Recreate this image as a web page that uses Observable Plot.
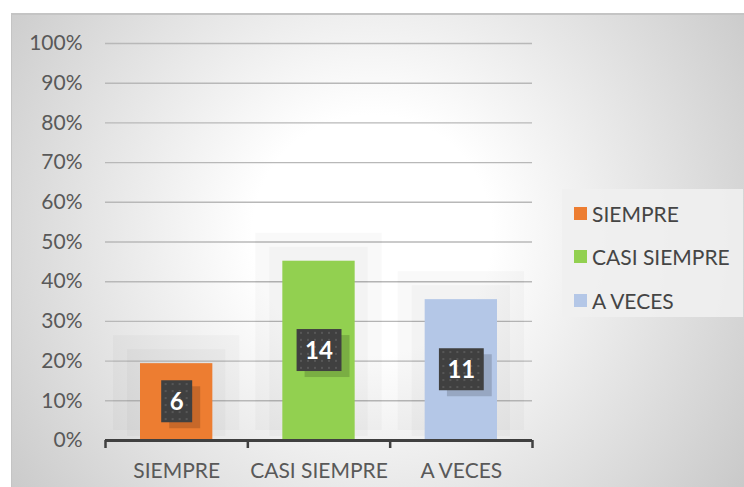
<!DOCTYPE html>
<html>
<head>
<meta charset="utf-8">
<script src="https://cdn.jsdelivr.net/npm/d3@7"></script>
<script src="https://cdn.jsdelivr.net/npm/@observablehq/plot@0.6"></script>
<style>
  body { margin: 0; background: #fff; }
  #wrap { position: relative; width: 744px; height: 487px; overflow: hidden; background: #fff; font-family: Lato, "Open Sans", sans-serif; }
  #frame { position: absolute; left: 11px; top: 13px; width: 733px; height: 474px;
    border-top: 2px solid #c4c4c4; border-left: 1px solid #c4c4c4; box-sizing: border-box;
    background: radial-gradient(circle at 360px 220px, #ffffff 0px, #ffffff 120px, #c4c4c4 480px); }
  #chart { position: absolute; left: 0; top: 0; }
  #legend { position: absolute; left: 562px; top: 189px; width: 181px; height: 128px; background: rgba(240,240,240,0.9); }
  .item { position: absolute; left: 12px; height: 24px; display: flex; align-items: center; font-size: 21px; color: #454545; white-space: nowrap; }
  .sw { width: 13px; height: 13px; margin-right: 5px; }
</style>
</head>
<body>
<div id="wrap">
  <div id="frame"></div>
  <div id="chart"></div>
  <div id="legend"></div>
</div>
<script>
const categories = ["SIEMPRE", "CASI SIEMPRE", "A VECES"];
const counts = [6, 14, 11];
const colors = ["#ED7D31", "#92D050", "#B4C7E7"];
const yTickValues = [0, 0.1, 0.2, 0.3, 0.4, 0.5, 0.6, 0.7, 0.8, 0.9, 1.0];

const total = d3.sum(counts);
const data = categories.map((c, i) => ({cat: c, i, count: counts[i], pct: counts[i] / total, color: colors[i]}));

const chart = Plot.plot({
  width: 744,
  height: 487,
  marginLeft: 105,
  marginRight: 212,
  marginTop: 43,
  marginBottom: 47,
  x: {domain: [0, categories.length], axis: null, label: null},
  y: {domain: [0, 1], axis: null, label: null},
  style: {background: "transparent", fontFamily: "Lato, 'Open Sans', sans-serif", overflow: "visible"},
  marks: [
    Plot.gridY(yTickValues, {stroke: "#b8b8b8", strokeOpacity: 1, strokeWidth: 1.4}),
    Plot.axisY(yTickValues, {tickSize: 0, tickPadding: 23, tickFormat: d3.format(".0%"), fontSize: 21, fill: "#595959", label: null}),
    // soft glow around bars
    Plot.rectY(data, {x1: "i", x2: d => d.i + 1, y: "pct", fill: "black", fillOpacity: 0.025, insetLeft: 8, insetRight: 8, insetTop: -28, insetBottom: 10}),
    Plot.rectY(data, {x1: "i", x2: d => d.i + 1, y: "pct", fill: "black", fillOpacity: 0.025, insetLeft: 22, insetRight: 22, insetTop: -14, insetBottom: 4}),
    Plot.rectY(data, {x1: "i", x2: d => d.i + 1, y: "pct", fill: d => d.color, insetLeft: 35, insetRight: 35}),
    Plot.ruleY([0], {stroke: "#404040", strokeWidth: 3}),
    Plot.axisX(d3.range(categories.length + 1), {tickSize: 8, tickFormat: () => "", stroke: "#404040", strokeWidth: 2.5, label: null}),
    Plot.text(data, {x: d => d.i + 0.5, y: 0, dy: 31, text: "cat", fontSize: 21, fill: "#595959"}),
    Plot.text(data, {x: d => d.i + 0.5, y: d => d.pct / 2, text: d => String(d.count), fill: "white", fontWeight: "bold", fontSize: 24})
  ]
});
document.getElementById("chart").appendChild(chart);

// label boxes behind value labels
const NS = "http://www.w3.org/2000/svg";
const svg = chart.tagName.toLowerCase() === "svg" ? chart : chart.querySelector("svg");
const defs = document.createElementNS(NS, "defs");
const pat = document.createElementNS(NS, "pattern");
pat.setAttribute("id", "dots"); pat.setAttribute("width", 7); pat.setAttribute("height", 7);
pat.setAttribute("patternUnits", "userSpaceOnUse");
const pb = document.createElementNS(NS, "rect");
pb.setAttribute("width", 7); pb.setAttribute("height", 7); pb.setAttribute("fill", "#404040");
const pd = document.createElementNS(NS, "rect");
pd.setAttribute("x", 2); pd.setAttribute("y", 2); pd.setAttribute("width", 2); pd.setAttribute("height", 2); pd.setAttribute("fill", "#575757");
pat.appendChild(pb); pat.appendChild(pd); defs.appendChild(pat); svg.insertBefore(defs, svg.firstChild);

const textGroups = svg.querySelectorAll('g[aria-label="text"]');
const lblGroup = textGroups[textGroups.length - 1];
lblGroup.querySelectorAll("text").forEach(t => {
  const bb = t.getBBox();
  const cx = bb.x + bb.width / 2;
  const cy = bb.y + bb.height / 2 + 1;
  const w = bb.width + 17, h = 42;
  const tr = t.getAttribute("transform");
  const mk = (dx, dy, fill) => {
    const r = document.createElementNS(NS, "rect");
    r.setAttribute("x", cx - w / 2 + dx); r.setAttribute("y", cy - h / 2 + dy);
    r.setAttribute("width", w); r.setAttribute("height", h);
    r.setAttribute("fill", fill);
    if (tr) r.setAttribute("transform", tr);
    t.parentNode.insertBefore(r, t);
  };
  mk(8, 6, "rgba(0,0,0,0.16)");
  mk(0, 0, "url(#dots)");
});

// legend
const legend = document.getElementById("legend");
categories.forEach((c, i) => {
  const it = document.createElement("div");
  it.className = "item";
  it.style.top = (12 + i * 43.5) + "px";
  const sw = document.createElement("span");
  sw.className = "sw"; sw.style.background = colors[i];
  it.appendChild(sw);
  it.appendChild(document.createTextNode(c));
  legend.appendChild(it);
});
</script>
</body>
</html>
